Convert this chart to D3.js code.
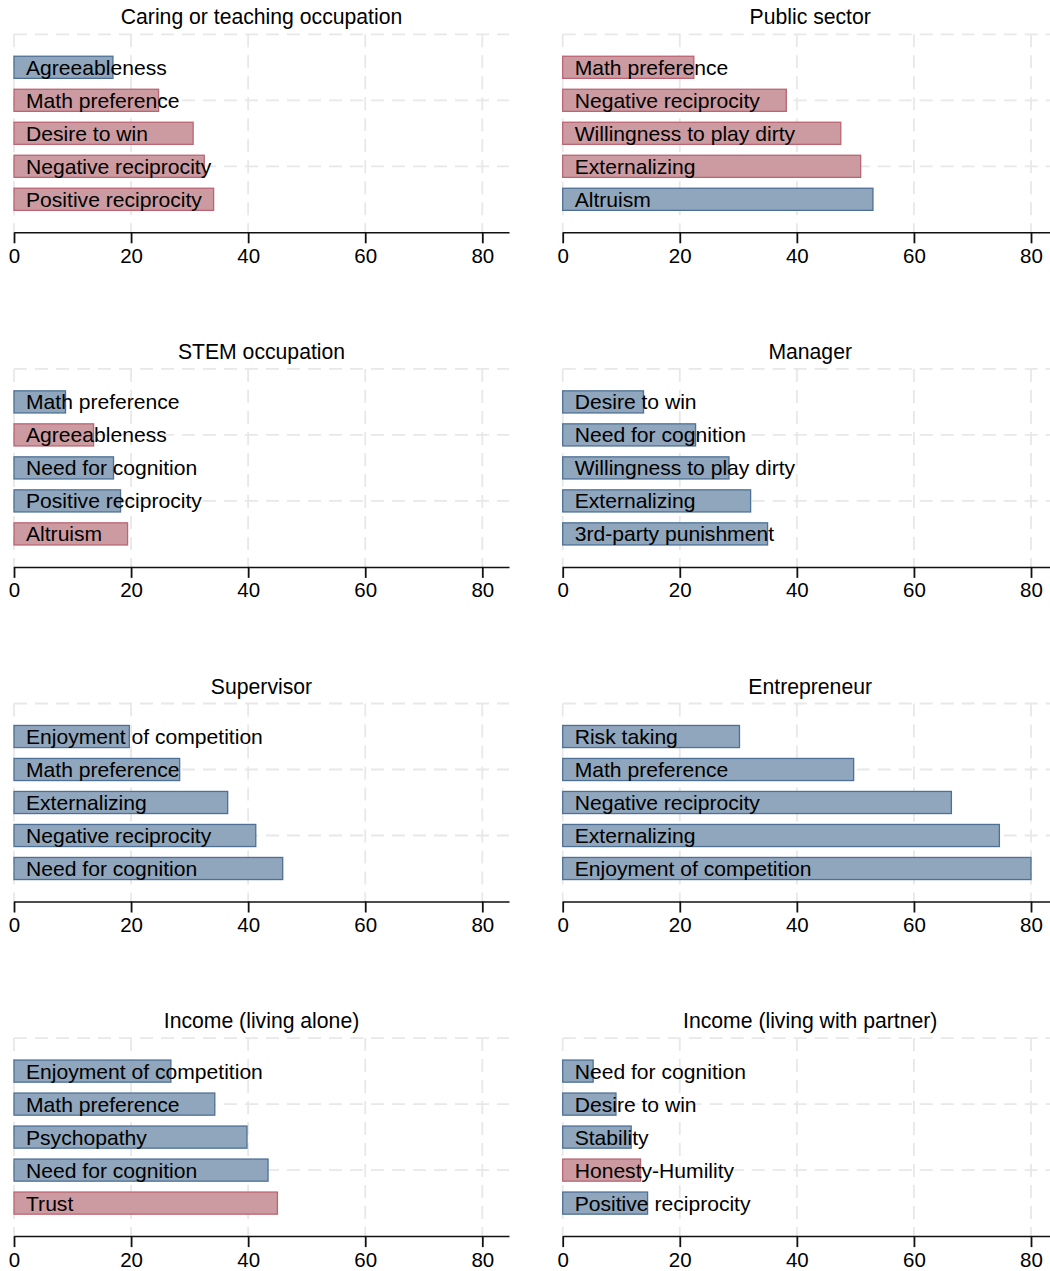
<!DOCTYPE html>
<html>
<head>
<meta charset="utf-8">
<script src="https://cdn.jsdelivr.net/npm/d3@7"></script>
<style>
  html, body { margin: 0; padding: 0; background: #ffffff; }
  svg { display: block; font-family: "Liberation Sans", Arial, Helvetica, sans-serif; }
</style>
</head>
<body>
<svg id="chart" width="1050" height="1271"></svg>
<script>
// Panel titles, in reading order (left to right, top to bottom)
const panelTitles = [
  "Caring or teaching occupation", "Public sector",
  "STEM occupation", "Manager",
  "Supervisor", "Entrepreneur",
  "Income (living alone)", "Income (living with partner)"
];

// Trait labels per panel, top bar first
const caringLabels = ["Agreeableness", "Math preference", "Desire to win", "Negative reciprocity", "Positive reciprocity"];
const publicLabels = ["Math preference", "Negative reciprocity", "Willingness to play dirty", "Externalizing", "Altruism"];
const stemLabels = ["Math preference", "Agreeableness", "Need for cognition", "Positive reciprocity", "Altruism"];
const managerLabels = ["Desire to win", "Need for cognition", "Willingness to play dirty", "Externalizing", "3rd-party punishment"];
const supervisorLabels = ["Enjoyment of competition", "Math preference", "Externalizing", "Negative reciprocity", "Need for cognition"];
const entrepreneurLabels = ["Risk taking", "Math preference", "Negative reciprocity", "Externalizing", "Enjoyment of competition"];
const aloneLabels = ["Enjoyment of competition", "Math preference", "Psychopathy", "Need for cognition", "Trust"];
const partnerLabels = ["Need for cognition", "Desire to win", "Stability", "Honesty-Humility", "Positive reciprocity"];

// Bar values per panel
const caringValues = [16.9, 24.7, 30.6, 32.5, 34.1];
const publicValues = [22.4, 38.2, 47.5, 50.9, 53.0];
const stemValues = [8.8, 13.6, 17.0, 18.2, 19.4];
const managerValues = [13.8, 22.7, 28.4, 32.1, 35.0];
const supervisorValues = [19.7, 28.3, 36.5, 41.3, 45.9];
const entrepreneurValues = [30.2, 49.7, 66.4, 74.6, 80.0];
const aloneValues = [26.8, 34.3, 39.8, 43.4, 45.0];
const partnerValues = [5.2, 9.1, 11.7, 13.3, 14.5];

// Sign of each association: "+" positive (blue), "-" negative (red)
const caringSigns = ["+", "-", "-", "-", "-"];
const publicSigns = ["-", "-", "-", "-", "+"];
const stemSigns = ["+", "-", "+", "+", "-"];
const managerSigns = ["+", "+", "+", "+", "+"];
const supervisorSigns = ["+", "+", "+", "+", "+"];
const entrepreneurSigns = ["+", "+", "+", "+", "+"];
const aloneSigns = ["+", "+", "+", "+", "-"];
const partnerSigns = ["+", "+", "+", "-", "+"];

// Axis tick values
const xTicks = [0, 20, 40, 60, 80];
const yGridTicks = [0, 2, 4];

const panels = [
  [caringLabels, caringValues, caringSigns],
  [publicLabels, publicValues, publicSigns],
  [stemLabels, stemValues, stemSigns],
  [managerLabels, managerValues, managerSigns],
  [supervisorLabels, supervisorValues, supervisorSigns],
  [entrepreneurLabels, entrepreneurValues, entrepreneurSigns],
  [aloneLabels, aloneValues, aloneSigns],
  [partnerLabels, partnerValues, partnerSigns]
].map(([labels, values, signs], i) => ({
  title: panelTitles[i],
  rows: labels.map((l, j) => ({ label: l, value: values[j], sign: signs[j] }))
}));

const fillColor = { "+": "#8fa6bd", "-": "#cc9ba1" };
const strokeColor = { "+": "#4e7096", "-": "#bb6573" };
const gridColor = "#e8e8e8";
const fontFamily = "\"Liberation Sans\", Arial, Helvetica, sans-serif";

const svg = d3.select("#chart");

const colX0 = [14, 562.7];
const plotWidth = 495;
const axisY0 = 232.3;
const rowStep = 334.6;
const plotHeight = 198;

panels.forEach((p, i) => {
  const col = i % 2, row = Math.floor(i / 2);
  const x0 = colX0[col];
  const axisY = axisY0 + row * rowStep;
  const top = axisY - plotHeight;

  const x = d3.scaleLinear().domain([0, 84.56]).range([x0, x0 + plotWidth]);
  const y = d3.scaleLinear().domain([0, 6]).range([top, axisY]);
  const barH = y(0.67) - y(0);

  const g = svg.append("g");

  // dashed grid lines
  g.selectAll("line.vgrid").data(xTicks).join("line")
    .attr("x1", d => x(d)).attr("x2", d => x(d))
    .attr("y1", top).attr("y2", axisY)
    .attr("stroke", gridColor).attr("stroke-width", 1.8)
    .attr("stroke-dasharray", "13,8");
  g.selectAll("line.hgrid").data(yGridTicks).join("line")
    .attr("x1", x0).attr("x2", x0 + plotWidth)
    .attr("y1", d => y(d)).attr("y2", d => y(d))
    .attr("stroke", gridColor).attr("stroke-width", 1.8)
    .attr("stroke-dasharray", "13,8");

  // title
  g.append("text")
    .attr("x", x0 + plotWidth / 2).attr("y", axisY - 215 + 7)
    .attr("text-anchor", "middle")
    .attr("font-size", 21.2).attr("fill", "#000")
    .text(p.title);

  // bars
  g.selectAll("rect.bar").data(p.rows).join("rect")
    .attr("x", x(0))
    .attr("y", (d, j) => y(j + 1) - barH / 2)
    .attr("width", d => x(d.value) - x(0))
    .attr("height", barH)
    .attr("fill", d => fillColor[d.sign])
    .attr("stroke", d => strokeColor[d.sign])
    .attr("stroke-width", 1.3);

  // labels inside the bars
  g.selectAll("text.lbl").data(p.rows).join("text")
    .attr("x", x(0) + 12)
    .attr("y", (d, j) => y(j + 1) + 7.5)
    .attr("font-size", 21.1).attr("fill", "#000")
    .text(d => d.label);

  // x axis
  const ax = g.append("g")
    .attr("transform", `translate(0,${axisY})`)
    .call(d3.axisBottom(x).tickValues(xTicks).tickSize(11).tickSizeOuter(0).tickPadding(5));
  ax.select(".domain").attr("stroke", "#111").attr("stroke-width", 1.5);
  ax.selectAll(".tick line").attr("stroke", "#111").attr("stroke-width", 1.8);
  ax.selectAll(".tick text")
    .attr("font-size", 20.5).attr("fill", "#000")
    .attr("font-family", fontFamily);
});
</script>
</body>
</html>
